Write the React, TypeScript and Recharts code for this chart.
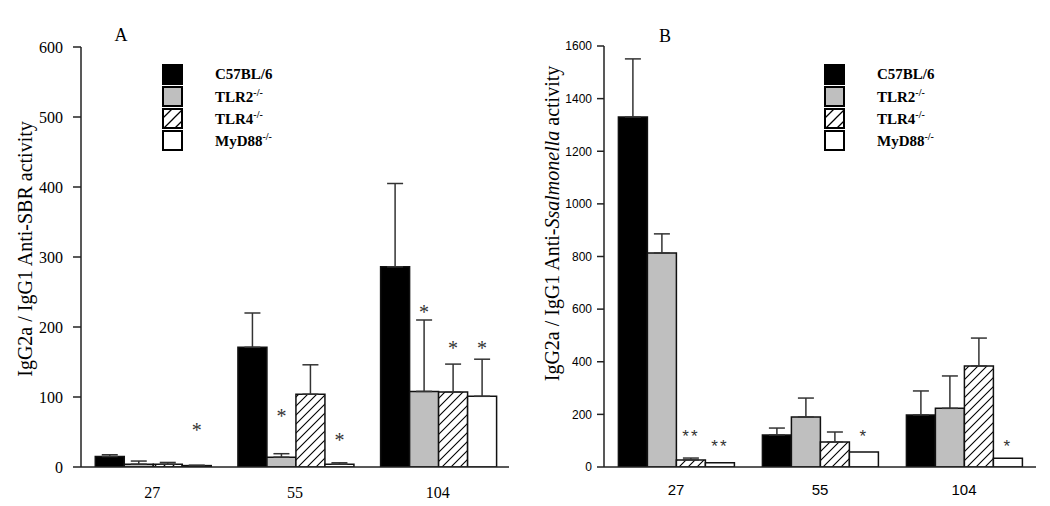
import React from 'react';
import { BarChart, Bar, XAxis, YAxis, ErrorBar, LabelList, Legend } from 'recharts';

const SERIF = '"Liberation Serif", "Times New Roman", Times, serif';
const SANS = '"Liberation Sans", Arial, Helvetica, sans-serif';

// Categories (x axis)
const categories = ['27', '55', '104'];
// Series
const seriesKeys = ['c57', 'tlr2', 'tlr4', 'myd88'];
const seriesNames = ['C57BL/6', 'TLR2', 'TLR4', 'MyD88'];
const seriesSups = ['', '-/-', '-/-', '-/-'];

// Panel A: IgG2a / IgG1 anti-SBR activity
const aTicks = [0, 100, 200, 300, 400, 500, 600];
const aC57 = [15, 171, 286];
const aTLR2 = [4, 14, 108];
const aTLR4 = [4, 104, 107];
const aMyD88 = [2, 4, 101];
const aC57Err = [2.5, 49, 119];
const aTLR2Err = [4.5, 5, 102];
const aTLR4Err = [2.5, 42, 40];
const aMyD88Err = [0.5, 2, 53];
const aC57Star = [null, null, null];
const aTLR2Star = [null, '*', '*'];
const aTLR4Star = [null, null, '*'];
const aMyD88Star = ['*', '*', '*'];
const aC57StarLevel = [null, null, null];
const aTLR2StarLevel = [null, 77, 226];
const aTLR4StarLevel = [null, null, 174];
const aMyD88StarLevel = [57, 43, 174];

// Panel B: IgG2a / IgG1 anti-Salmonella activity
const bTicks = [0, 200, 400, 600, 800, 1000, 1200, 1400, 1600];
const bC57 = [1330, 122, 198];
const bTLR2 = [813, 190, 223];
const bTLR4 = [27, 95, 384];
const bMyD88 = [16, 57, 33];
const bC57Err = [221, 26, 91];
const bTLR2Err = [73, 72, 123];
const bTLR4Err = [7, 38, 106];
const bMyD88Err = [null, null, null];
const bC57Star = [null, null, null];
const bTLR2Star = [null, null, null];
const bTLR4Star = ['**', null, null];
const bMyD88Star = ['**', '*', '*'];
const bC57StarLevel = [null, null, null];
const bTLR2StarLevel = [null, null, null];
const bTLR4StarLevel = [133, null, null];
const bMyD88StarLevel = [95, 133, 95];

const fills = ['#000000', '#bfbfbf', 'url(#hatchBar)', '#ffffff'];
const legendFills = ['#000000', '#bfbfbf', 'url(#hatchLegend)', '#ffffff'];

function buildRows(
  vals: number[][],
  errs: (number | null)[][],
  stars: (string | null)[][],
  levels: (number | null)[][]
) {
  return categories.map((c, i) => {
    const row: any = { cat: c };
    seriesKeys.forEach((k, s) => {
      row[k] = vals[s][i];
      const e = errs[s][i];
      row[k + 'Err'] = e == null ? null : [0, e];
      const st = stars[s][i];
      const lv = levels[s][i];
      row[k + 'Star'] = st && lv != null ? `${lv}|${st}|${vals[s][i]}` : null;
    });
    return row;
  });
}

const rowsA = buildRows(
  [aC57, aTLR2, aTLR4, aMyD88],
  [aC57Err, aTLR2Err, aTLR4Err, aMyD88Err],
  [aC57Star, aTLR2Star, aTLR4Star, aMyD88Star],
  [aC57StarLevel, aTLR2StarLevel, aTLR4StarLevel, aMyD88StarLevel]
);
const rowsB = buildRows(
  [bC57, bTLR2, bTLR4, bMyD88],
  [bC57Err, bTLR2Err, bTLR4Err, bMyD88Err],
  [bC57Star, bTLR2Star, bTLR4Star, bMyD88Star],
  [bC57StarLevel, bTLR2StarLevel, bTLR4StarLevel, bMyD88StarLevel]
);

const makeStar = (font: string, size: number, centerEm: number, spacing: number) => (p: any) => {
  const v = p.value == null ? '' : String(p.value);
  if (!v || v.indexOf('|') < 0) return null;
  const [lvlS, text, barS] = v.split('|');
  const level = Number(lvlS);
  const barVal = Number(barS);
  const vb = p.viewBox && p.viewBox.width != null ? p.viewBox : p;
  const x = Number(vb.x);
  const y = Number(vb.y);
  const w = Number(vb.width);
  const h = Number(vb.height);
  const zero = Math.max(y, y + h);
  const pxPerUnit = Math.abs(h) / barVal;
  const cy = zero - level * pxPerUnit;
  return (
    <text
      x={x + w / 2}
      y={cy + centerEm * size}
      textAnchor="middle"
      fontFamily={font}
      fontSize={size}
      letterSpacing={spacing}
      fill="#333333"
      stroke="none"
    >
      {text}
    </text>
  );
};

const LegendBox = () => (
  <div style={{ fontFamily: SERIF, fontWeight: 'bold', fontSize: 15, color: '#000' }}>
    {seriesNames.map((n, i) => (
      <div key={n} style={{ display: 'flex', alignItems: 'center', height: 22 }}>
        <svg width={21} height={21} style={{ display: 'block' }}>
          <rect x={1} y={1} width={19} height={19} fill={legendFills[i]} stroke="#000" strokeWidth={2} />
        </svg>
        <span style={{ marginLeft: 32, whiteSpace: 'nowrap' }}>
          {n}
          {seriesSups[i] ? <sup style={{ fontSize: 10 }}>{seriesSups[i]}</sup> : null}
        </span>
      </div>
    ))}
  </div>
);

const yLabelA = (props: any) => {
  const vb = props.viewBox;
  const cx = vb.x + 11;
  const cy = vb.y + vb.height / 2 - 8;
  return (
    <text
      x={cx}
      y={cy}
      transform={`rotate(-90 ${cx} ${cy})`}
      textAnchor="middle"
      fontFamily={SERIF}
      fontSize={20}
      fill="#000"
    >
      IgG2a / IgG1 Anti-SBR activity
    </text>
  );
};

const yLabelB = (props: any) => {
  const vb = props.viewBox;
  const cx = vb.x + 15;
  const cy = vb.y + vb.height / 2 - 33;
  return (
    <text
      x={cx}
      y={cy}
      transform={`rotate(-90 ${cx} ${cy})`}
      textAnchor="middle"
      fontFamily={SERIF}
      fontSize={20}
      fill="#000"
    >
      IgG2a / IgG1 Anti-<tspan fontStyle="italic">Ssalmonella</tspan> activity
    </text>
  );
};

type PanelProps = {
  rows: any[];
  ticks: number[];
  margin: { top: number; right: number; bottom: number; left: number };
  tickFont: string;
  yTickFontSize: number;
  yTickSizeLen: number;
  yTickMargin: number;
  xTickFont: string;
  xTickFontSize: number;
  xTickSizeLen: number;
  xTickMargin: number;
  yLabel: (p: any) => any;
  legendLeft: number;
  letter: string;
  letterX: number;
  letterY: number;
  starFont: string;
  starSize: number;
  starCenterEm: number;
  starSpacing: number;
  hasErr: boolean[];
};

const Panel = (p: PanelProps) => {
  const star = makeStar(p.starFont, p.starSize, p.starCenterEm, p.starSpacing);
  return (
    <BarChart
      width={525}
      height={506}
      data={p.rows}
      margin={p.margin}
      barCategoryGap="10%"
      barGap={0}
    >
      <XAxis
        dataKey="cat"
        interval={0}
        height={30}
        axisLine={{ stroke: '#222', strokeWidth: 1.5 }}
        tickLine={false}
        tickSize={p.xTickSizeLen}
        tickMargin={p.xTickMargin}
        fontFamily={p.xTickFont}
        tick={{ fill: '#000', fontSize: p.xTickFontSize, fontFamily: p.xTickFont }}
      />
      <YAxis
        width={60}
        domain={[0, p.ticks[p.ticks.length - 1]]}
        ticks={p.ticks}
        interval={0}
        allowDataOverflow
        axisLine={{ stroke: '#222', strokeWidth: 1.5 }}
        tickLine={{ stroke: '#222', strokeWidth: 1.5 }}
        tickSize={p.yTickSizeLen}
        tickMargin={p.yTickMargin}
        fontFamily={p.tickFont}
        tick={{ fill: '#000', fontSize: p.yTickFontSize, fontFamily: p.tickFont }}
        label={{ content: p.yLabel }}
      />
      <Legend
        layout="vertical"
        verticalAlign="middle"
        align="center"
        wrapperStyle={{ position: 'absolute', left: p.legendLeft, top: 63, width: 200 }}
        content={() => <LegendBox />}
      />
      {seriesKeys.map((k, i) => (
        <Bar
          key={k}
          dataKey={k}
          fill={fills[i]}
          stroke="#111"
          strokeWidth={1.5}
          isAnimationActive={false}
        >
          {p.hasErr[i] ? (
            <ErrorBar dataKey={k + 'Err'} width={8} stroke="#333" strokeWidth={1.5} direction="y" />
          ) : null}
          <LabelList dataKey={k + 'Star'} content={star} />
        </Bar>
      ))}
      <text x={p.letterX} y={p.letterY} textAnchor="middle" fontFamily={SERIF} fontSize={18} fill="#000">
        {p.letter}
      </text>
    </BarChart>
  );
};

export default function App() {
  return (
    <div
      style={{
        position: 'absolute',
        left: 0,
        top: 0,
        width: 1050,
        height: 506,
        background: '#fff',
        overflow: 'hidden',
      }}
    >
      <svg width={0} height={0} style={{ position: 'absolute' }}>
        <defs>
          <pattern id="hatchBar" patternUnits="userSpaceOnUse" width={9} height={9}>
            <rect width={9} height={9} fill="#fff" />
            <path d="M0,9 L9,0 M-2,2 L2,-2 M7,11 L11,7" stroke="#000" strokeWidth={1.1} />
          </pattern>
          <pattern id="hatchLegend" patternUnits="userSpaceOnUse" width={11} height={11}>
            <rect width={11} height={11} fill="#fff" />
            <path d="M0,11 L11,0 M-2,2 L2,-2 M9,13 L13,9" stroke="#000" strokeWidth={1.3} />
          </pattern>
        </defs>
      </svg>
      <div style={{ position: 'absolute', left: 0, top: 0 }}>
        <Panel
          rows={rowsA}
          ticks={aTicks}
          margin={{ top: 47, right: 16, bottom: 9, left: 21 }}
          tickFont={SERIF}
          yTickFontSize={16}
          yTickSizeLen={8}
          yTickMargin={10}
          xTickFont={SERIF}
          xTickFontSize={16}
          xTickSizeLen={10}
          xTickMargin={10}
          yLabel={yLabelA}
          legendLeft={162}
          letter="A"
          letterX={121}
          letterY={41}
          starFont={SERIF}
          starSize={20}
          starCenterEm={0.5}
          starSpacing={0}
          hasErr={[true, true, true, true]}
        />
      </div>
      <div style={{ position: 'absolute', left: 525, top: 0 }}>
        <Panel
          rows={rowsB}
          ticks={bTicks}
          margin={{ top: 46, right: 14, bottom: 9, left: 19 }}
          tickFont={SANS}
          yTickFontSize={12}
          yTickSizeLen={7}
          yTickMargin={5}
          xTickFont={SANS}
          xTickFontSize={15}
          xTickSizeLen={8}
          xTickMargin={9}
          yLabel={yLabelB}
          legendLeft={299}
          letter="B"
          letterX={140}
          letterY={42}
          starFont={SANS}
          starSize={17}
          starCenterEm={0.58}
          starSpacing={2}
          hasErr={[true, true, true, false]}
        />
      </div>
    </div>
  );
}
